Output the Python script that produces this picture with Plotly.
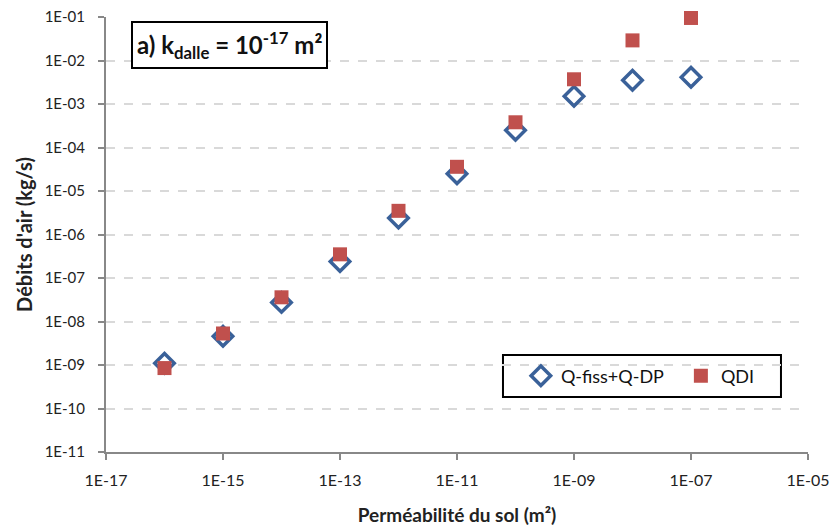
import plotly.graph_objects as go

permeabilite = [1e-16, 1e-15, 1e-14, 1e-13, 1e-12, 1e-11, 1e-10, 1e-9, 1e-8, 1e-7]
q_fiss_dp = [1.1e-9, 4.6e-9, 2.75e-8, 2.4e-7, 2.4e-6, 2.5e-5, 2.5e-4, 1.5e-3, 3.5e-3, 4.1e-3]
qdi = [8.5e-10, 5.3e-9, 3.6e-8, 3.5e-7, 3.5e-6, 3.6e-5, 3.8e-4, 3.7e-3, 2.9e-2, 9.5e-2]

x_ticks = [1e-17, 1e-15, 1e-13, 1e-11, 1e-9, 1e-7, 1e-5]
x_labels = ["1E-17", "1E-15", "1E-13", "1E-11", "1E-09", "1E-07", "1E-05"]
y_ticks = [10.0 ** e for e in range(-11, 0)]
y_labels = ["1E-%02d" % (-e) for e in range(-11, 0)]

FONT = "Lato, Open Sans, sans-serif"

fig = go.Figure()
fig.add_trace(go.Scatter(
    x=permeabilite, y=q_fiss_dp, mode="markers", name="Q-fiss+Q-DP", cliponaxis=False,
    marker=dict(symbol="diamond-open", size=15, color="#3A6199", line=dict(width=3.5, color="#3A6199")),
))
fig.add_trace(go.Scatter(
    x=permeabilite, y=qdi, mode="markers", name="QDI", cliponaxis=False,
    marker=dict(symbol="square", size=14, color="#C0504D", line=dict(width=0)),
))

fig.update_layout(
    width=830, height=530,
    margin=dict(l=106, r=22, t=17, b=78, autoexpand=False),
    paper_bgcolor="white", plot_bgcolor="white",
    font=dict(family=FONT, size=15, color="#222222"),
    showlegend=True,
    legend=dict(
        orientation="h", x=0.591, y=0.1747, xanchor="left", yanchor="middle",
        borderwidth=0, bgcolor="rgba(0,0,0,0)",
        font=dict(family=FONT, size=18, color="#111111"),
        entrywidth=115, itemwidth=30, tracegroupgap=0,
    ),
    xaxis=dict(
        type="log", range=[-17, -5], tickvals=x_ticks, ticktext=x_labels,
        showgrid=False, zeroline=False, automargin=False,
        showline=True, linecolor="#888888", linewidth=2,
        ticks="outside", ticklen=6, tickwidth=2, tickcolor="#888888",
        ticklabelstandoff=7, ticklabeloverflow="allow",
        tickfont=dict(size=16, color="#222222"),
        title=dict(text="<b>Perméabilité du sol (m²)</b>", font=dict(size=19, color="#222222"), standoff=20),
    ),
    yaxis=dict(
        type="log", range=[-11, -1], tickvals=y_ticks, ticktext=y_labels,
        showgrid=True, gridcolor="#D9D9D9", griddash="dash", gridwidth=2,
        zeroline=False, automargin=False,
        showline=True, linecolor="#888888", linewidth=2,
        ticks="outside", ticklen=6, tickwidth=2, tickcolor="#888888",
        ticklabelstandoff=10, ticklabeloverflow="allow",
        tickfont=dict(size=15, color="#222222"),
        title=dict(text="<b>Débits d'air (kg/s)</b>", font=dict(size=20, color="#222222"), standoff=7),
    ),
    shapes=[dict(
        type="rect", xref="paper", yref="paper",
        x0=0.5655, x1=0.9615, y0=0.1264, y1=0.223,
        line=dict(color="black", width=2), fillcolor="white", layer="below",
    )],
    annotations=[dict(
        text="<b>a) k<sub>dalle</sub> = 10<sup>-17</sup> m²</b>",
        xref="paper", yref="paper", x=0.036, y=0.99, xanchor="left", yanchor="top",
        showarrow=False, font=dict(family=FONT, size=24, color="#111111"),
        bordercolor="black", borderwidth=2, borderpad=4, bgcolor="white",
    )],
)

fig.write_html(
    "out.html",
    config={"displayModeBar": False},
    post_script="document.body.style.margin='0';document.body.style.overflow='hidden';",
)
